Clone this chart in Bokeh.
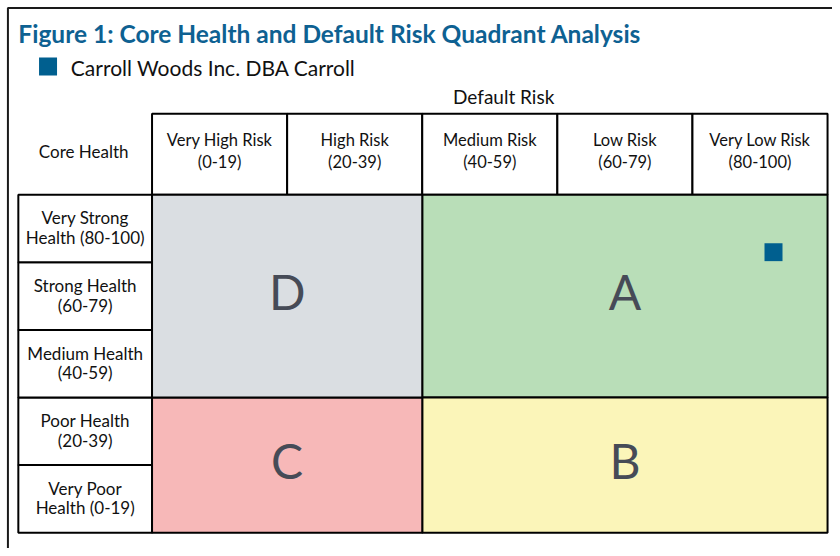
from bokeh.plotting import figure
from bokeh.models import Range1d, ColumnDataSource
from bokeh.core.properties import value
from bokeh.embed import file_html
from bokeh.resources import INLINE

# ---------------- data ----------------
chart_title = "Figure 1: Core Health and Default Risk Quadrant Analysis"
series_name = "Carroll Woods Inc. DBA Carroll"
x_axis_title = "Default Risk"
y_axis_title = "Core Health"

risk_labels = ["Very High Risk\n(0-19)", "High Risk\n(20-39)", "Medium Risk\n(40-59)",
               "Low Risk\n(60-79)", "Very Low Risk\n(80-100)"]
risk_edges = [0, 20, 40, 60, 80, 100]

health_labels = ["Very Poor\nHealth (0-19)", "Poor Health\n(20-39)", "Medium Health\n(40-59)",
                 "Strong Health\n(60-79)", "Very Strong\nHealth (80-100)"]
health_edges = [0, 20, 40, 60, 80, 100]

quadrant_names = ["A", "B", "C", "D"]
quadrant_risk_lo = [40, 40, 0, 0]
quadrant_risk_hi = [100, 100, 40, 40]
quadrant_health_lo = [40, 0, 0, 40]
quadrant_health_hi = [100, 40, 40, 100]
quadrant_colors = ["#b9deb8", "#fbf5b9", "#f7b8b8", "#dadee2"]

point_risk = [92]
point_health = [83]

# ---------------- layout helpers (reference pixels -> score units) ----------------
GRID_LEFT, GRID_RIGHT = 153.0, 835.0
GRID_TOP, GRID_BOTTOM = 197.0, 540.0
KX = (GRID_RIGHT - GRID_LEFT) / 100.0
KY = (GRID_BOTTOM - GRID_TOP) / 100.0


def X(px):
    return (px - GRID_LEFT) / KX


def Y(py):
    return (GRID_BOTTOM - py) / KY


W, H = 832, 548
FONT = "Lato"
BLUE = "#005f8f"
INK = "#111111"

p = figure(width=W, height=H, output_backend="svg", toolbar_location=None,
           x_range=Range1d(X(0), X(840)), y_range=Range1d(Y(556), Y(0)),
           min_border=0, outline_line_color=None)
p.axis.visible = False
p.grid.visible = False
p.background_fill_color = "white"
p.border_fill_color = "white"

# outer frame (left and top)
p.line(x=[X(7.5), X(7.5), X(840)], y=[Y(556), Y(7.5), Y(7.5)], line_color="#1a1a1a", line_width=2)

# title & legend
p.text(x=[X(18)], y=[Y(33.5)], text=[chart_title], text_font=value(FONT), text_font_style="bold",
       text_font_size="24.5px", text_color="#0e6192", text_baseline="middle", text_align="left")
p.scatter(x=[X(48)], y=[Y(67)], marker="square", size=18, fill_color=BLUE, line_color=None)
p.text(x=[X(71)], y=[Y(68)], text=[series_name], text_font=value(FONT), text_font_size="21px",
       text_color=INK, text_baseline="middle", text_align="left")

# axis titles
p.text(x=[X(508)], y=[Y(97)], text=[x_axis_title], text_font=value(FONT), text_font_size="19px",
       text_color=INK, text_baseline="middle", text_align="center")
p.text(x=[X(84)], y=[Y(153)], text=[y_axis_title], text_font=value(FONT), text_font_size="17px",
       text_color=INK, text_baseline="middle", text_align="center")

# column header cells
col_src = ColumnDataSource(dict(
    left=risk_edges[:-1], right=risk_edges[1:],
    cx=[(a + b) / 2 for a, b in zip(risk_edges[:-1], risk_edges[1:])],
    l1=[s.split("\n")[0] for s in risk_labels], l2=[s.split("\n")[1] for s in risk_labels]))
p.quad(left="left", right="right", bottom=100, top=Y(115), source=col_src,
       fill_color="white", line_color="black", line_width=2)
hy = (100 + Y(115)) / 2
p.text(x="cx", y=hy, text="l1", source=col_src, y_offset=-14, text_font=value(FONT),
       text_font_size="16.5px", text_color=INK, text_baseline="middle", text_align="center")
p.text(x="cx", y=hy, text="l2", source=col_src, y_offset=8, text_font=value(FONT),
       text_font_size="16.5px", text_color=INK, text_baseline="middle", text_align="center")

# row header cells
row_src = ColumnDataSource(dict(
    bottom=health_edges[:-1], top=health_edges[1:],
    cy=[(a + b) / 2 for a, b in zip(health_edges[:-1], health_edges[1:])],
    l1=[s.split("\n")[0] for s in health_labels], l2=[s.split("\n")[1] for s in health_labels]))
p.quad(left=X(18), right=0, bottom="bottom", top="top", source=row_src,
       fill_color="white", line_color="black", line_width=2)
rx = (X(18) + 0) / 2
p.text(x=rx, y="cy", text="l1", source=row_src, y_offset=-10.5, text_font=value(FONT),
       text_font_size="17px", text_color=INK, text_baseline="middle", text_align="center")
p.text(x=rx, y="cy", text="l2", source=row_src, y_offset=9, text_font=value(FONT),
       text_font_size="17px", text_color=INK, text_baseline="middle", text_align="center")

# quadrants
q_src = ColumnDataSource(dict(
    left=quadrant_risk_lo, right=quadrant_risk_hi, bottom=quadrant_health_lo, top=quadrant_health_hi,
    color=quadrant_colors, name=quadrant_names,
    cx=[(a + b) / 2 for a, b in zip(quadrant_risk_lo, quadrant_risk_hi)],
    cy=[(a + b) / 2 for a, b in zip(quadrant_health_lo, quadrant_health_hi)]))
p.quad(left="left", right="right", bottom="bottom", top="top", source=q_src,
       fill_color="color", line_color="black", line_width=2)
p.text(x="cx", y="cy", text="name", source=q_src, y_offset=-5, text_font=value(FONT),
       text_font_size="48px", text_color="#464b57", text_baseline="middle", text_align="center")

# data point
p.scatter(x=point_risk, y=point_health, marker="square", size=18, fill_color=BLUE, line_color=None)

open("out.html", "w").write(file_html(p, INLINE))
